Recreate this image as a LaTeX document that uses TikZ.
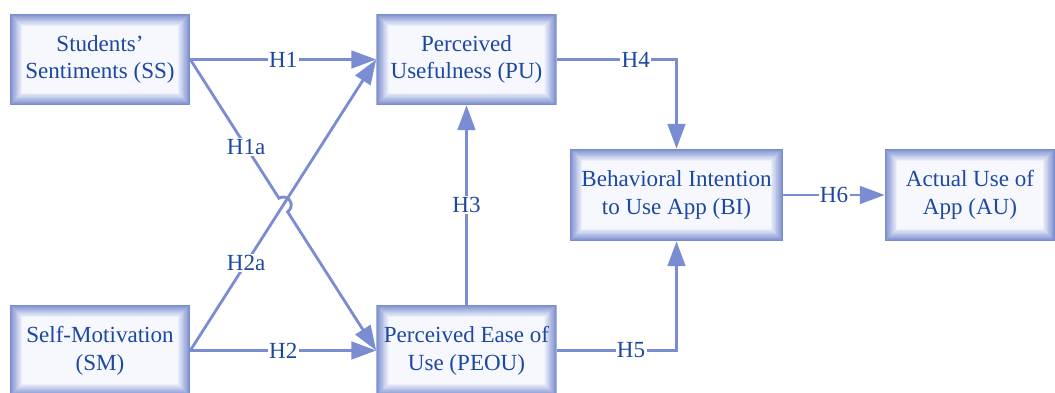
\documentclass[tikz,border=0pt]{standalone}
\usepackage{fontspec}
\setmainfont{Liberation Serif}
\usetikzlibrary{arrows.meta,calc}

\definecolor{linecol}{RGB}{122,140,210}
\definecolor{textblue}{RGB}{28,72,160}
\definecolor{glowblue}{RGB}{122,140,206}
\definecolor{boxwhite}{RGB}{246,248,254}

\tikzset{
  construct/.style={minimum width=4.5cm, minimum height=2.275cm, inner sep=0pt,
    align=center, text=textblue, font=\fontsize{16.4}{19.7}\selectfont,
    path picture={
      \foreach \k in {0,...,22}{
        \pgfmathsetmacro{\mix}{100*(1-\k/22)}
        \fill[glowblue!\mix!boxwhite]
          ([shift={(\k*0.4pt,-\k*0.4pt)}]path picture bounding box.north west)
          rectangle ([shift={(-\k*0.4pt,\k*0.4pt)}]path picture bounding box.south east);
      }
    }},
  hyp/.style={draw=linecol, line width=2pt, -{Triangle[length=0.62cm,width=0.44cm]}},
  hlabel/.style={fill=white, inner sep=1pt, text=textblue, font=\fontsize{16.4}{19.7}\selectfont}
}

\begin{document}
\begin{tikzpicture}[x=0.025cm,y=0.025cm]
\useasboundingbox (0,0) rectangle (1055,393);

% The constructs
\node[construct] (ss) at (100,333.5) {Students’\\Sentiments (SS)};
\node[construct] (pu) at (466.5,333.5) {Perceived\\Usefulness (PU)};
\node[construct] (sm) at (100,42.5) {Self-Motivation\\(SM)};
\node[construct] (peou) at (466.5,42.5) {Perceived Ease of\\Use (PEOU)};
\node[construct,minimum width=5.325cm,minimum height=2.3cm] (bi) at (676.5,198) {Behavioral Intention\\to Use App (BI)};
\node[construct,minimum width=4.25cm,minimum height=2.3cm] (au) at (970,198) {Actual Use of\\App (AU)};

% The hypotheses
\draw[hyp] (ss.east) -- node[hlabel]{H1} (pu.west);
\draw[hyp] (sm.east) -- node[hlabel]{H2} (peou.west);
\draw[hyp] (sm.east) -- node[hlabel,pos=0.3]{H2a} (pu.west);

% H1a jumps over H2a
\coordinate (cross) at ($(ss.east)!0.5!(peou.west)$);
\draw[hyp] (ss.east) -- ($(cross)!0.2cm!(ss.east)$)
  arc[start angle=122.6, end angle=-57.4, radius=0.2cm] -- (peou.west);
\node[hlabel] (h1a) at ($(ss.east)!0.3!(peou.west)$) {H1a};

\draw[hyp] (peou.north) -- node[hlabel]{H3} (pu.south);
\draw[hyp] (pu.east) -| node[hlabel,pos=0.33]{H4} (bi.north);
\draw[hyp] (peou.east) -| node[hlabel,pos=0.31]{H5} (bi.south);
\draw[hyp] (bi.east) -- node[hlabel]{H6} (au.west);

\end{tikzpicture}
\end{document}
